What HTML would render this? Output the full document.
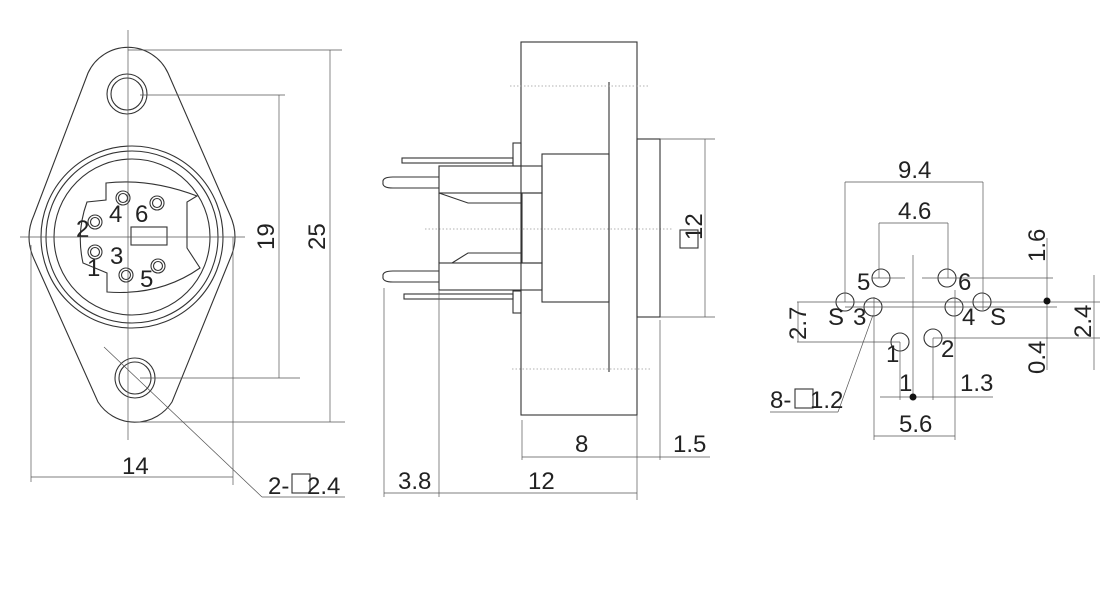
<!DOCTYPE html>
<html><head><meta charset="utf-8"><style>
html,body{margin:0;padding:0;background:#fff;}
svg{display:block;}
text{font-family:"Liberation Sans",sans-serif;font-size:24px;fill:#222;}
.o{fill:none;stroke:#333;stroke-width:1.1;}
.d{fill:none;stroke:#555;stroke-width:0.7;}
.dot{fill:none;stroke:#999;stroke-width:0.8;stroke-dasharray:1.5 2;}
</style></head><body>
<svg width="1120" height="608" viewBox="0 0 1120 608" xmlns="http://www.w3.org/2000/svg">
<!-- LEFT VIEW -->
<path class="o" d="M88,73 A44,44 0 0 1 168,73 L230,215 Q240,237 230,259 L172,402 A44,44 0 0 1 98,402 L34,259 Q24,237 34,215 Z"/>
<circle class="o" cx="127" cy="94" r="20"/><circle class="o" cx="127" cy="94" r="16"/>
<circle class="o" cx="135" cy="378" r="20"/><circle class="o" cx="135" cy="378" r="16"/>
<circle class="o" cx="132" cy="237" r="91"/><circle class="o" cx="132" cy="237" r="86"/><circle class="o" cx="132" cy="237" r="78"/>
<path class="o" d="M106,183 L106,183 Q150,178 197,196 L187,202 L187,248 L200,268 Q160,296 107,292 L107,273 L83,263 Q76,232 87,202 L106,200 Z"/>
<rect class="o" x="131" y="227" width="36" height="18"/>
<g class="o">
<circle cx="123" cy="198" r="7"/><circle cx="123" cy="198" r="4.5"/>
<circle cx="157" cy="203" r="7"/><circle cx="157" cy="203" r="4.5"/>
<circle cx="95" cy="222" r="7"/><circle cx="95" cy="222" r="4.5"/>
<circle cx="95" cy="252" r="7"/><circle cx="95" cy="252" r="4.5"/>
<circle cx="126" cy="275" r="7"/><circle cx="126" cy="275" r="4.5"/>
<circle cx="158" cy="266" r="7"/><circle cx="158" cy="266" r="4.5"/>
</g>
<text x="109" y="222">4</text><text x="135" y="222">6</text><text x="76" y="237">2</text>
<text x="110" y="264">3</text><text x="87" y="276">1</text><text x="140" y="287">5</text>
<g class="d">
<line x1="128" y1="30" x2="128" y2="440"/><line x1="20" y1="237" x2="245" y2="237"/>
<line x1="140" y1="95" x2="285" y2="95"/><line x1="279" y1="95" x2="279" y2="378"/><line x1="140" y1="378" x2="300" y2="378"/>
<line x1="128" y1="50" x2="342" y2="50"/><line x1="330" y1="50" x2="330" y2="422"/><line x1="135" y1="422" x2="345" y2="422"/>
<line x1="31" y1="245" x2="31" y2="482"/><line x1="233" y1="237" x2="233" y2="485"/><line x1="31" y1="477" x2="233" y2="477"/>
<line x1="104" y1="347" x2="262" y2="497"/><line x1="262" y1="497" x2="345" y2="497"/>
</g>
<text transform="translate(274,250) rotate(-90)">19</text>
<text transform="translate(325,250) rotate(-90)">25</text>
<text x="122" y="474">14</text>
<text x="268" y="494">2-</text><rect class="o" x="292" y="474" width="18" height="19"/><text x="307" y="494">2.4</text>
<!-- MIDDLE VIEW -->
<rect class="o" x="521" y="42" width="116" height="373"/>
<line class="o" x1="609" y1="82" x2="609" y2="372"/>
<line class="dot" x1="510" y1="86" x2="648" y2="86"/><line class="dot" x1="512" y1="369" x2="652" y2="369"/><line class="dot" x1="425" y1="229" x2="672" y2="229"/>
<rect class="o" x="637" y="139" width="23" height="178"/>
<rect class="o" x="542" y="154" width="67" height="148" fill="#fff"/>
<rect class="o" x="439" y="166" width="103" height="27"/><rect class="o" x="439" y="263" width="103" height="27"/>
<rect class="o" x="522" y="193" width="20" height="70"/>
<polyline class="o" points="439,193 468,203 522,203"/><polyline class="o" points="452,263 468,253 522,253"/>
<line class="o" x1="439" y1="193" x2="439" y2="263"/>
<path class="o" d="M439,177 L393,177 Q382,177 383,182.5 Q382,188 393,188 L439,188"/>
<path class="o" d="M439,271 L393,271 Q382,271 383,276.5 Q382,282 393,282 L439,282"/>
<rect class="o" x="402" y="158" width="111" height="5"/><rect class="o" x="513" y="143" width="8" height="23"/>
<rect class="o" x="404" y="294" width="109" height="5"/><rect class="o" x="513" y="291" width="8" height="22"/>
<g class="d">
<line x1="705" y1="139" x2="705" y2="317"/><line x1="660" y1="139" x2="715" y2="139"/><line x1="660" y1="317" x2="715" y2="317"/>
<line x1="522" y1="420" x2="522" y2="460"/><line x1="660" y1="320" x2="660" y2="460"/><line x1="522" y1="457" x2="710" y2="457"/>
<line x1="384" y1="288" x2="384" y2="497"/><line x1="439" y1="290" x2="439" y2="497"/><line x1="637" y1="415" x2="637" y2="500"/>
<line x1="384" y1="493" x2="637" y2="493"/>
</g>
<text transform="translate(702,240) rotate(-90)">12</text><rect class="o" x="680" y="230" width="18" height="18"/>
<text x="575" y="452">8</text><text x="673" y="452">1.5</text>
<text x="398" y="489">3.8</text><text x="528" y="489">12</text>
<!-- RIGHT VIEW -->
<g class="o">
<circle cx="881" cy="278" r="9"/><circle cx="947" cy="278" r="9"/><circle cx="845" cy="302" r="9"/><circle cx="873" cy="307" r="9"/>
<circle cx="954" cy="307" r="9"/><circle cx="982" cy="302" r="9"/><circle cx="900" cy="342" r="9"/><circle cx="933" cy="338" r="9"/>
</g>
<g class="d">
<line x1="913" y1="255" x2="913" y2="397"/>
<line x1="845" y1="182" x2="983" y2="182"/><line x1="845" y1="182" x2="845" y2="302"/><line x1="983" y1="182" x2="983" y2="310"/>
<line x1="879" y1="223" x2="948" y2="223"/><line x1="879" y1="223" x2="879" y2="278"/><line x1="948" y1="223" x2="948" y2="278"/>
<line x1="872" y1="278" x2="905" y2="278"/><line x1="922" y1="278" x2="1053" y2="278"/>
<line x1="797" y1="302" x2="1100" y2="302"/><line x1="845" y1="307" x2="1057" y2="307"/>
<line x1="797" y1="342" x2="900" y2="342"/><line x1="933" y1="338" x2="1100" y2="338"/>
<line x1="798" y1="302" x2="798" y2="342"/>
<line x1="1047" y1="238" x2="1047" y2="370"/><line x1="1094" y1="275" x2="1094" y2="370"/>
<line x1="880" y1="397" x2="993" y2="397"/><line x1="900" y1="342" x2="900" y2="400"/><line x1="933" y1="338" x2="933" y2="400"/>
<line x1="874" y1="436" x2="955" y2="436"/><line x1="874" y1="297" x2="874" y2="440"/><line x1="955" y1="290" x2="955" y2="440"/>
<line x1="873" y1="315" x2="838" y2="412"/><line x1="838" y1="412" x2="770" y2="412"/>
</g>
<circle cx="1047" cy="301" r="3.5" fill="#111"/><circle cx="913" cy="397" r="3.5" fill="#111"/>
<text x="898" y="178">9.4</text><text x="898" y="219">4.6</text>
<text x="857" y="290">5</text><text x="958" y="290">6</text>
<text x="828" y="325">S</text><text x="853" y="325">3</text><text x="962" y="325">4</text><text x="990" y="325">S</text>
<text x="886" y="362">1</text><text x="941" y="357">2</text>
<text transform="translate(806,340) rotate(-90)">2.7</text>
<text transform="translate(1045,262) rotate(-90)">1.6</text>
<text transform="translate(1045,374) rotate(-90)">0.4</text>
<text transform="translate(1091,338) rotate(-90)">2.4</text>
<text x="899" y="391">1</text><text x="960" y="391">1.3</text>
<text x="899" y="432">5.6</text>
<text x="770" y="408">8-</text><rect class="o" x="795" y="389" width="18" height="19"/><text x="810" y="408">1.2</text>
</svg>
</body></html>
